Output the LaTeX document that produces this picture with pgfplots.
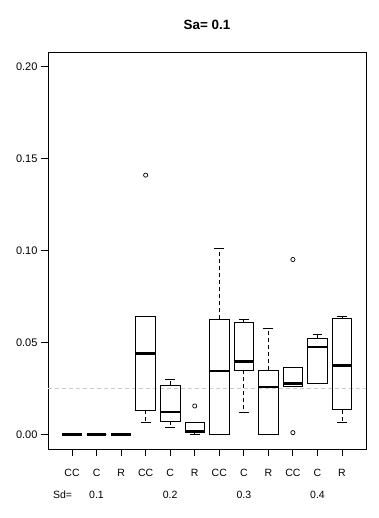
\documentclass[border=0pt]{standalone}
\usepackage{pgfplots}
\pgfplotsset{compat=1.18}
\usepgfplotslibrary{statistics}
\usepackage{fontspec}
\setmainfont{Liberation Sans}
\pgfplotsset{
  rbox/.style={
    black, solid, line width=0.8pt,
    boxplot/draw direction=y,
    boxplot/box extend=0.8,
    boxplot/whisker extend=0.4,
    boxplot/every median/.style={line width=2.6pt},
    boxplot/every box/.style={line width=0.8pt},
    boxplot/draw/lower whisker/.code={
      \draw[line width=0.8pt, dash pattern=on 4pt off 3pt]
        (boxplot cs:\pgfplotsboxplotvalue{lower quartile}) --
        (boxplot cs:\pgfplotsboxplotvalue{lower whisker});
      \draw[line width=0.8pt]
        (boxplot whisker cs:\pgfplotsboxplotvalue{lower whisker},0) --
        (boxplot whisker cs:\pgfplotsboxplotvalue{lower whisker},1);
    },
    boxplot/draw/upper whisker/.code={
      \draw[line width=0.8pt, dash pattern=on 4pt off 3pt]
        (boxplot cs:\pgfplotsboxplotvalue{upper quartile}) --
        (boxplot cs:\pgfplotsboxplotvalue{upper whisker});
      \draw[line width=0.8pt]
        (boxplot whisker cs:\pgfplotsboxplotvalue{upper whisker},0) --
        (boxplot whisker cs:\pgfplotsboxplotvalue{upper whisker},1);
    },
    mark=o, mark size=2.1pt, mark options={solid, line width=0.7pt},
  }
}
% draw position, lower whisker, lower quartile, median, upper quartile, upper whisker, outliers
\newcommand{\rbox}[7]{\addplot[rbox, boxplot prepared={draw position=#1, lower whisker=#2, lower quartile=#3, median=#4, upper quartile=#5, upper whisker=#6}] coordinates {#7};}
\begin{document}
\begin{tikzpicture}[x=1pt,y=1pt]
\path (0,0) rectangle (378,518);
\begin{axis}[
  at={(48pt,69pt)}, anchor=south west,
  scale only axis, width=318pt, height=397pt,
  xmin=0.02, xmax=12.98, ymin=-0.008, ymax=0.208,
  axis line style={line width=0.8pt},
  tick pos=left, tick align=outside,
  major tick length=7pt,
  tick style={line width=0.8pt, black},
  xtick={1,...,12},
  xticklabels={CC,C,R,CC,C,R,CC,C,R,CC,C,R},
  ytick={0,0.05,0.1,0.15,0.2},
  scaled y ticks=false,
  /pgf/number format/assume math mode=true,
  yticklabel style={/pgf/number format/fixed, /pgf/number format/fixed zerofill, /pgf/number format/precision=2, font=\fontsize{11}{13}\selectfont},
  xticklabel style={font=\fontsize{10.5}{12}\selectfont, yshift=-10pt},
  clip=false,
]
\addplot[gray!40, line width=0.75pt, dash pattern=on 4pt off 3pt] coordinates {(0.02,0.025) (12.98,0.025)};
\rbox{1}{0}{0}{0}{0}{0}{}
\rbox{2}{0}{0}{0}{0}{0}{}
\rbox{3}{0}{0}{0}{0}{0}{}
\rbox{4}{0.0067}{0.0132}{0.0440}{0.0640}{0.0640}{(0,0.141)}
\rbox{5}{0.0036}{0.0072}{0.0121}{0.0268}{0.0299}{}
\rbox{6}{0.0002}{0.0011}{0.0018}{0.0064}{0.0064}{(0,0.0154)}
\rbox{7}{0}{0}{0.0344}{0.0625}{0.1013}{}
\rbox{8}{0.0118}{0.0348}{0.0395}{0.0610}{0.0625}{}
\rbox{9}{0}{0}{0.0257}{0.0348}{0.0576}{}
\rbox{10}{0.0261}{0.0261}{0.0277}{0.0366}{0.0366}{(0,0.0951) (0,0.0009)}
\rbox{11}{0.0279}{0.0279}{0.0475}{0.0522}{0.0545}{}
\rbox{12}{0.0065}{0.0134}{0.0373}{0.0629}{0.0640}{}
\end{axis}
\node[font=\bfseries\fontsize{13.4}{16}\selectfont] at (207,493) {Sa= 0.1};
\begin{scope}[every node/.style={font=\fontsize{10.5}{12}\selectfont}]
\node at (62.5,23) {Sd=};
\node at (96.5,23) {0.1};
\node at (170.2,23) {0.2};
\node at (243.9,23) {0.3};
\node at (317.5,23) {0.4};
\end{scope}
\end{tikzpicture}
\end{document}
